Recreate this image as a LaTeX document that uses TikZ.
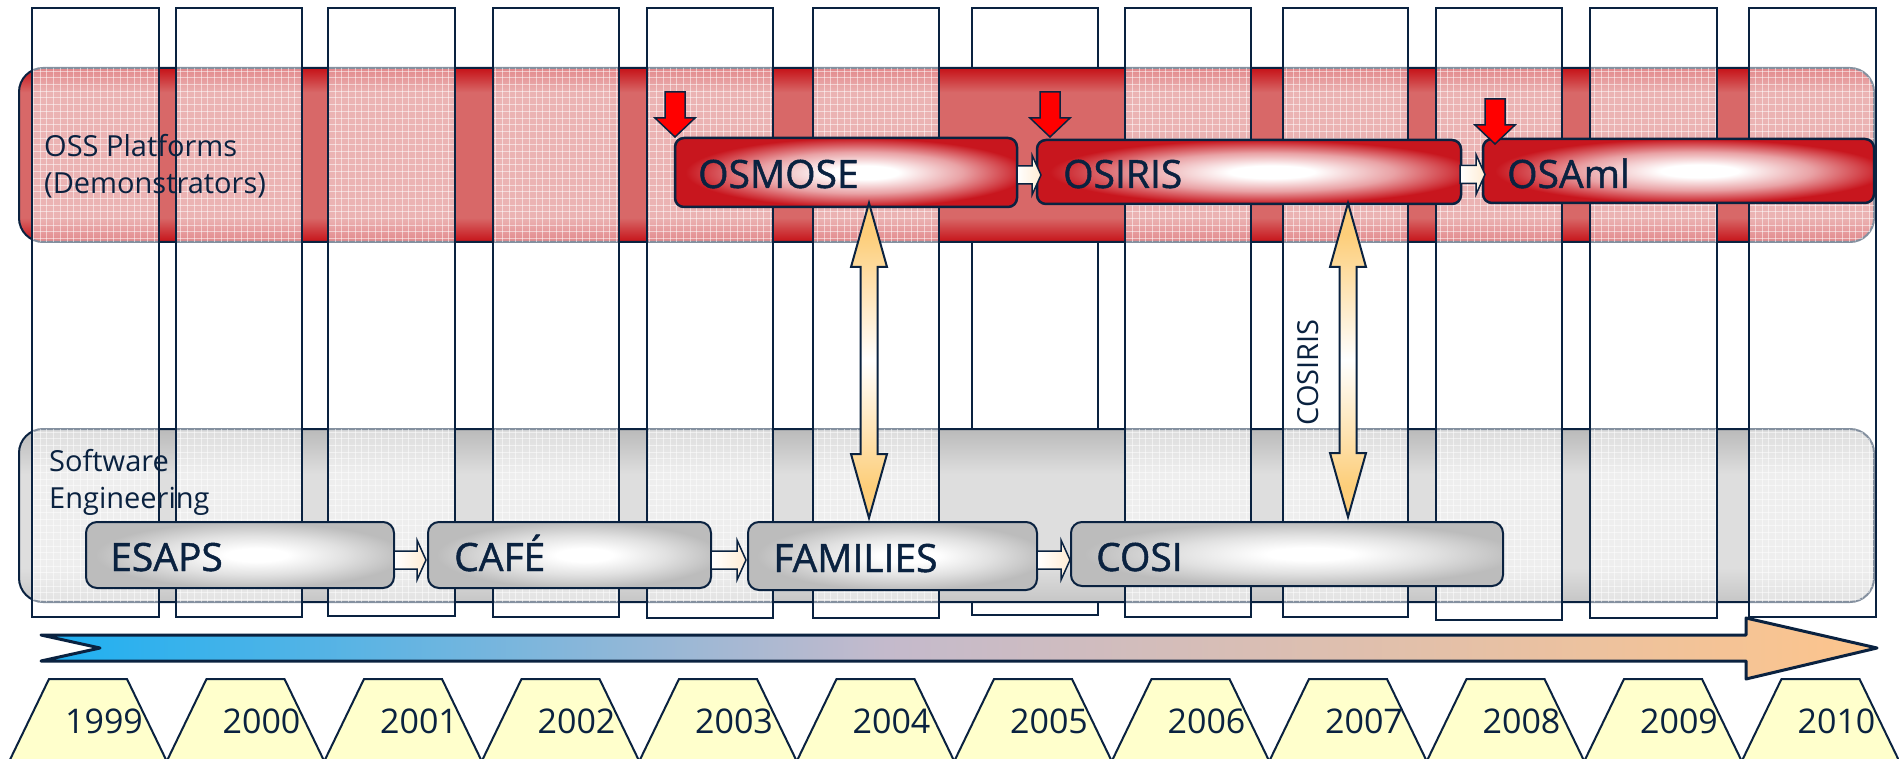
\documentclass[tikz,border=0pt]{standalone}
\usepackage{fontspec}
\setmainfont{Open Sans}
\newfontfamily\heavyfont[FakeBold=1.2]{Open Sans}
\usetikzlibrary{calc}
\definecolor{navy}{RGB}{10,34,64}
\definecolor{bandred}{RGB}{198,18,24}
\definecolor{bandmid}{RGB}{216,104,104}
\definecolor{boxred}{RGB}{200,22,30}
\definecolor{grayA}{RGB}{186,186,186}
\definecolor{grayM}{RGB}{222,222,222}
\definecolor{grayB}{RGB}{198,198,198}
\definecolor{boxgray}{RGB}{188,188,188}
\definecolor{yearfill}{RGB}{255,255,204}
\definecolor{arrorange}{RGB}{253,206,122}
\definecolor{cream}{RGB}{255,236,212}
\definecolor{tlA}{RGB}{28,176,242}
\definecolor{tlM}{RGB}{196,186,204}
\definecolor{tlB}{RGB}{253,197,140}
\pgfdeclareverticalshading{ossband}{100bp}{color(0bp)=(bandred); color(25bp)=(bandred); color(32bp)=(bandmid); color(68bp)=(bandmid); color(75bp)=(bandred); color(100bp)=(bandred)}
\pgfdeclareverticalshading{seband}{100bp}{color(0bp)=(grayB); color(25bp)=(grayB); color(35bp)=(grayM); color(62bp)=(grayM); color(75bp)=(grayA); color(100bp)=(grayA)}
\pgfdeclareradialshading{redglow}{\pgfpoint{3bp}{0bp}}{color(0bp)=(white); color(5bp)=(white); color(15bp)=(boxred!40!white); color(25bp)=(boxred); color(50bp)=(boxred)}
\pgfdeclareradialshading{grayglow}{\pgfpoint{3bp}{0bp}}{color(0bp)=(white); color(5bp)=(white); color(15bp)=(boxgray!45!white); color(25bp)=(boxgray); color(50bp)=(boxgray)}
\pgfdeclareverticalshading{dblglow}{100bp}{color(0bp)=(arrorange); color(30bp)=(arrorange); color(50bp)=(white); color(70bp)=(arrorange); color(100bp)=(arrorange)}
\pgfdeclarehorizontalshading{timeline}{100bp}{color(0bp)=(tlA); color(25bp)=(tlA); color(48bp)=(tlM); color(75bp)=(tlB); color(100bp)=(tlB)}
\tikzset{
  coldraw/.style={draw=navy, line width=2pt},
  bandbox/.style={draw=navy, line width=2pt, rounded corners=24pt, inner sep=0pt, outer sep=0pt, anchor=north west, shade},
  redbox/.style={draw=navy, line width=2.5pt, rounded corners=9pt, shade, shading=redglow, inner sep=0pt, outer sep=0pt, anchor=north west},
  graybox/.style={draw=navy, line width=2pt, rounded corners=11pt, shade, shading=grayglow, inner sep=0pt, outer sep=0pt, anchor=north west},
  boxlbl/.style={text=navy, font=\heavyfont\fontsize{39}{39}\selectfont, inner sep=0pt, anchor=base west},
  bandlbl/.style={text=navy, font=\fontsize{29}{29}\selectfont, inner sep=0pt, anchor=base west},
  yearlbl/.style={text=navy, font=\fontsize{34}{34}\selectfont, inner sep=0pt, anchor=base},
  gridline/.style={draw=white, line width=0.7pt, opacity=0.5},
  redarrow/.style={fill=red, draw=navy, line width=1.5pt, line join=miter},
  dblarrow/.style={shading=dblglow, draw=navy, line width=2pt, line join=miter},
  whitearrow/.style={left color=white, right color=cream, draw=navy, line width=1.5pt, line join=miter},
  yearbox/.style={fill=yearfill, draw=navy, line width=2pt},
  pics/redarr/.style={code={\draw[redarrow] (-10,-45) -- (10,-45) -- (10,-19) -- (20,-19) -- (0,0) -- (-20,-19) -- (-10,-19) -- cycle;}},
  pics/blockarr/.style={code={\shadedraw[whitearrow] (-#1,-9) -- (-9,-9) -- (-9,-20) -- (0,0) -- (-9,20) -- (-9,9) -- (-#1,9) -- cycle;}},
  pics/dblarr/.style={code={\shadedraw[dblarrow] (0,0) -- (18,64) -- (8.5,64) -- (8.5,#1-64) -- (18,#1-64) -- (0,#1) -- (-18,#1-64) -- (-8.5,#1-64) -- (-8.5,64) -- (-18,64) -- cycle;}},
}
\begin{document}
\begin{tikzpicture}[x=1pt,y=-1pt]
\useasboundingbox (0,0) rectangle (1899,759);
\clip (0,0) rectangle (1899,759);
\fill[white] (0,0) rectangle (1899,759);

% column 2005 lies behind the bands
\draw[fill=white, coldraw] (972.4,8) rectangle (1098.4,615);

% bands
\node[bandbox, shading=ossband, minimum width=1855pt, minimum height=174pt] (oss) at (19,68) {};
\node[bandbox, shading=seband, minimum width=1855pt, minimum height=173pt] (se) at (19,429) {};

% translucent year columns
\fill[white, opacity=0.5]
  (31.5,8) rectangle (158.6,617) (175.6,8) rectangle (301.5,617)
  (328.3,8) rectangle (455,616) (492.5,8) rectangle (618.8,617)
  (646.6,8) rectangle (772.6,618) (812.6,8) rectangle (938.5,618)
  (1125,8) rectangle (1251,617) (1282.5,8) rectangle (1408.4,617)
  (1436,8) rectangle (1562,620) (1590,8) rectangle (1717,618)
  (1748.7,8) rectangle (1875.8,617);

\begin{scope}
  \clip[rounded corners=24pt] (19,68) rectangle (1874,242) (19,429) rectangle (1874,602);
  \clip
  (31.5,8) rectangle (158.6,617) (175.6,8) rectangle (301.5,617)
  (328.3,8) rectangle (455,616) (492.5,8) rectangle (618.8,617)
  (646.6,8) rectangle (772.6,618) (812.6,8) rectangle (938.5,618)
  (1125,8) rectangle (1251,617) (1282.5,8) rectangle (1408.4,617)
  (1436,8) rectangle (1562,620) (1590,8) rectangle (1717,618)
  (1748.7,8) rectangle (1875.8,617);
  \draw[gridline] \foreach \x in {20,26.7,...,1874}{(\x,60) -- (\x,610)};
  \draw[gridline] \foreach \y in {71,77.7,...,242}{(0,\y) -- (1899,\y)};
  \draw[gridline] \foreach \y in {432,438.7,...,602}{(0,\y) -- (1899,\y)};
\end{scope}

\draw[coldraw]
  (31.5,8) rectangle (158.6,617) (175.6,8) rectangle (301.5,617)
  (328.3,8) rectangle (455,616) (492.5,8) rectangle (618.8,617)
  (646.6,8) rectangle (772.6,618) (812.6,8) rectangle (938.5,618)
  (1125,8) rectangle (1251,617) (1282.5,8) rectangle (1408.4,617)
  (1436,8) rectangle (1562,620) (1590,8) rectangle (1717,618)
  (1748.7,8) rectangle (1875.8,617);

% band labels
\node[bandlbl] (ossA) at (44,157) {OSS Platforms};
\node[bandlbl] (ossB) at (44,194) {(Demonstrators)};
\node[bandlbl] (seA) at (49,471) {Software};
\node[bandlbl] (seB) at (49,508) {Engineering};

% boxes
\node[redbox, minimum width=342pt, minimum height=69pt] (osmose) at (675,138) {};
\node[redbox, minimum width=424pt, minimum height=64pt] (osiris) at (1037,140) {};
\node[redbox, minimum width=391pt, minimum height=64pt] (osaml) at (1483,139) {};
\node[graybox, minimum width=308pt, minimum height=66pt] (esaps) at (86,522) {};
\node[graybox, minimum width=283pt, minimum height=66pt] (cafe) at (428,522) {};
\node[graybox, minimum width=289pt, minimum height=68pt] (families) at (748,522) {};
\node[graybox, minimum width=432pt, minimum height=64pt] (cosi) at (1071,522) {};

\node[boxlbl] (osmoseL) at (698,188) {OSMOSE};
\node[boxlbl] (osirisL) at (1063,188) {OSIRIS};
\node[boxlbl] (osamlL) at (1507,188) {OSAml};
\node[boxlbl] (esapsL) at (110,571) {ESAPS};
\node[boxlbl] (cafeL) at (454,571) {CAFÉ};
\node[boxlbl] (familiesL) at (773,572) {FAMILIES};
\node[boxlbl] (cosiL) at (1096,571) {COSI};

% succession arrows
\pic at ($(osiris.west)+(4,3)$) {blockarr=24};
\pic at ($(osaml.west)+(2,3.5)$) {blockarr=25};
\pic at ($(cafe.west)+(-2,5)$) {blockarr=32};
\pic at ($(families.west)+(-2,4)$) {blockarr=35};
\pic at ($(cosi.west)+(-1,6)$) {blockarr=33};

% start markers
\pic at ($(osmose.north west)+(0,-1)$) {redarr};
\pic at ($(osiris.north west)+(13,-3)$) {redarr};
\pic at ($(osaml.north west)+(12,5)$) {redarr};

% double arrows
\coordinate (dA) at ($(osmose.south west)+(194,-4)$);
\coordinate (dB) at ($(osiris.south west)+(311,-1)$);
\pic at (dA) {dblarr=315};
\pic at (dB) {dblarr=314};
\node[text=navy, font=\fontsize{29}{29}\selectfont, inner sep=0pt, rotate=90] (cosiris) at (1308.5,372.5) {COSIRIS};

% time line
\shadedraw[shading=timeline, draw=navy, line width=3pt, line join=round]
  (41,635) -- (1746,635) -- (1746,618) -- (1877,648) -- (1746,679) -- (1746,661) -- (41,661) -- (100,648) -- cycle;

% years
\foreach \i/\yr in {0/1999,1/2000,2/2001,3/2002,4/2003,5/2004,6/2005,7/2006,8/2007,9/2008,10/2009,11/2010}{
  \pgfmathsetmacro{\cx}{88+157.5*\i}
  \draw[yearbox] ({\cx-39},679) -- ({\cx+39},679) -- ({\cx+83},770) -- ({\cx-83},770) -- cycle;
  \node[yearlbl] (y\yr) at ({\cx+16},733) {\yr};
}
\end{tikzpicture}
\end{document}
